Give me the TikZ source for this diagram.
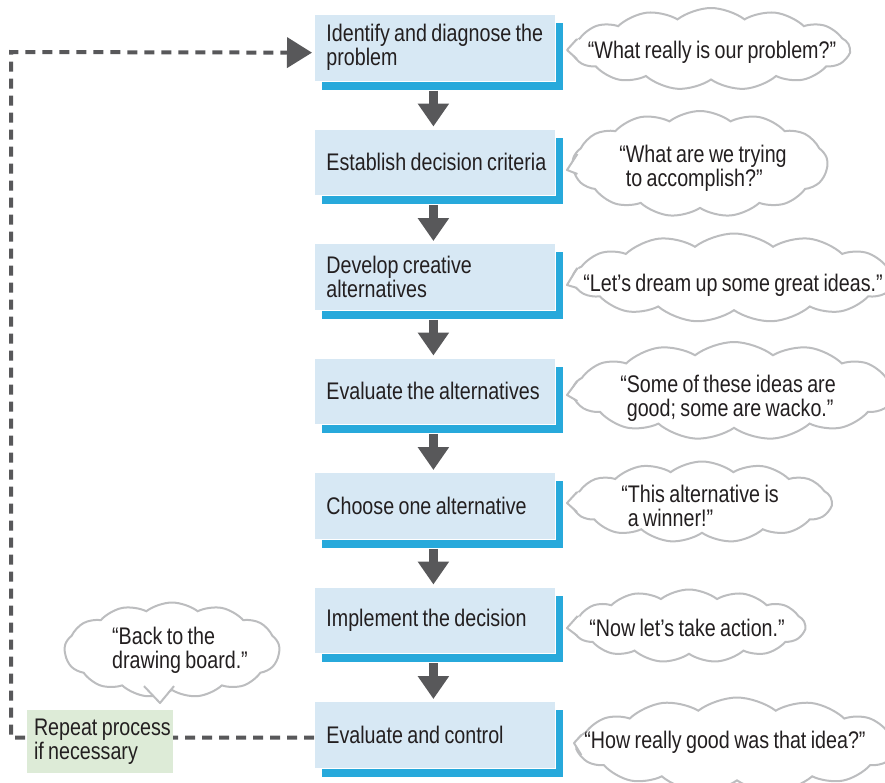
\documentclass[tikz,border=0pt]{standalone}
\usepackage{fontspec}
\setmainfont{Liberation Sans}[FakeStretch=0.82,WordSpace=0.8]
\usetikzlibrary{shapes.symbols,shadows,arrows.meta,calc}
\definecolor{boxfill}{HTML}{D7E8F4}
\definecolor{sblue}{HTML}{27A9DB}
\definecolor{agray}{HTML}{58585A}
\definecolor{cgray}{HTML}{BCBDBF}
\definecolor{txt}{HTML}{231F20}
\definecolor{gfill}{HTML}{DDEBD7}
\begin{document}
\begin{tikzpicture}[x=1pt,y=-1pt,
  every node/.style={font=\fontsize{24}{24}\selectfont, text=txt},
  stepbox/.style={rectangle, fill=boxfill, draw=white, line width=0.8pt,
    minimum width=241pt, minimum height=66.5pt, inner xsep=12pt,
    text width=217pt, align=flush left, anchor=north west,
    general shadow={shadow xshift=8pt, shadow yshift=-9pt, fill=sblue}},
  flow/.style={line width=9pt, draw=agray, -{Triangle[width=30pt,length=23pt]}, shorten >=2pt},
  fb/.style={line width=4pt, draw=agray, dash pattern=on 10pt off 7pt, -{Triangle[width=30pt,length=25pt]}},
  cloudy/.style={cloud, cloud puffs=13, cloud puff arc=75, cloud ignores aspect,
    draw=cgray, line width=2pt, fill=white, inner sep=0pt},
  ptr/.style={draw=cgray, line width=2pt, line join=round},
  ctext/.style={align=left, inner sep=0pt},
  greenbox/.style={rectangle, fill=gfill, minimum width=146pt, minimum height=63pt,
    inner xsep=7pt, text width=132pt, align=flush left}
]
\useasboundingbox (0,0) rectangle (885,782);

\node[stepbox] (b1) at (314,14) {\mbox{Identify and diagnose the}\\\mbox{problem}};
\node[stepbox] (b2) at (314,128.5) {\mbox{Establish decision criteria}};
\node[stepbox] (b3) at (314,243) {\mbox{Develop creative}\\\mbox{alternatives}};
\node[stepbox] (b4) at (314,357.5) {\mbox{Evaluate the alternatives}};
\node[stepbox] (b5) at (314,472) {\mbox{Choose one alternative}};
\node[stepbox] (b6) at (314,586.5) {\mbox{Implement the decision}};
\node[stepbox] (b7) at (314,701) {\mbox{Evaluate and control}};

\foreach \i/\j in {1/2,2/3,3/4,4/5,5/6,6/7}{
  \draw[flow] ($(b\i.south)+(-1.5,9.5)$) -- ($(b\j.north)+(-1.5,0)$);
}

% feedback loop
\coordinate (lc) at (11,52);
\draw[fb] ($(b7.west)+(0,3)$) -| (lc) -- ($(b1.west)+(-2,5)$);
\node[greenbox] (g) at (100,741.5) {\mbox{Repeat process}\\\mbox{if necessary}};

% clouds
\node[cloudy, minimum width=277pt, minimum height=82pt] (c1) at (711,49) {};
\node[cloudy, minimum width=255pt, minimum height=106pt] (c2) at (700,164) {};
\node[cloudy, minimum width=322pt, minimum height=89pt] (c3) at (734,278) {};
\node[cloudy, minimum width=322pt, minimum height=98pt] (c4) at (734,391) {};
\node[cloudy, minimum width=259pt, minimum height=81pt] (c5) at (702,502) {};
\node[cloudy, minimum width=232pt, minimum height=73pt] (c6) at (689,626) {};
\node[cloudy, minimum width=320pt, minimum height=95pt] (c7) at (737,745) {};
\node[cloudy, minimum width=215pt, minimum height=95pt] (bc) at (172,650) {};

\coordinate (p1) at (567,50);
\coordinate (p2) at (567,170);
\coordinate (p3) at (567,285);
\coordinate (p4) at (567,395);
\coordinate (p5) at (567,503);
\coordinate (p6) at (567,628);
\coordinate (p7) at (574,743);
\foreach \k in {1,...,7}{
  \fill[white] ($(c\k.west)+(8,-10)$) -- (p\k) -- ($(c\k.west)+(8,10)$) -- cycle;
  \draw[ptr] ($(c\k.west)+(6,-10)$) -- (p\k) -- ($(c\k.west)+(6,10)$);
}
\coordinate (pb) at (160,703);
\fill[white] ($(bc.south)+(-28,-7)$) -- (pb) -- ($(bc.south)+(2,-7)$) -- cycle;
\draw[ptr] ($(bc.south)+(-28,-5)$) -- (pb) -- ($(bc.south)+(2,-5)$);

\node[ctext] (t1) at (712,52) {“What really is our problem?”};
\node[ctext] (t2) at (703,168) {“What are we trying\\\hphantom{“}to accomplish?”};
\node[ctext] (t3) at (733,285) {“Let’s dream up some great ideas.”};
\node[ctext] (t4) at (728,398) {“Some of these ideas are\\\hphantom{“}good; some are wacko.”};
\node[ctext] (t5) at (700,506) {“This alternative is\\\hphantom{“}a winner!”};
\node[ctext] (t6) at (687,628) {“Now let’s take action.”};
\node[ctext] (t7) at (725,742) {“How really good was that idea?”};
\node[ctext] (tb) at (180,650) {“Back to the\\drawing board.”};
\end{tikzpicture}
\end{document}
